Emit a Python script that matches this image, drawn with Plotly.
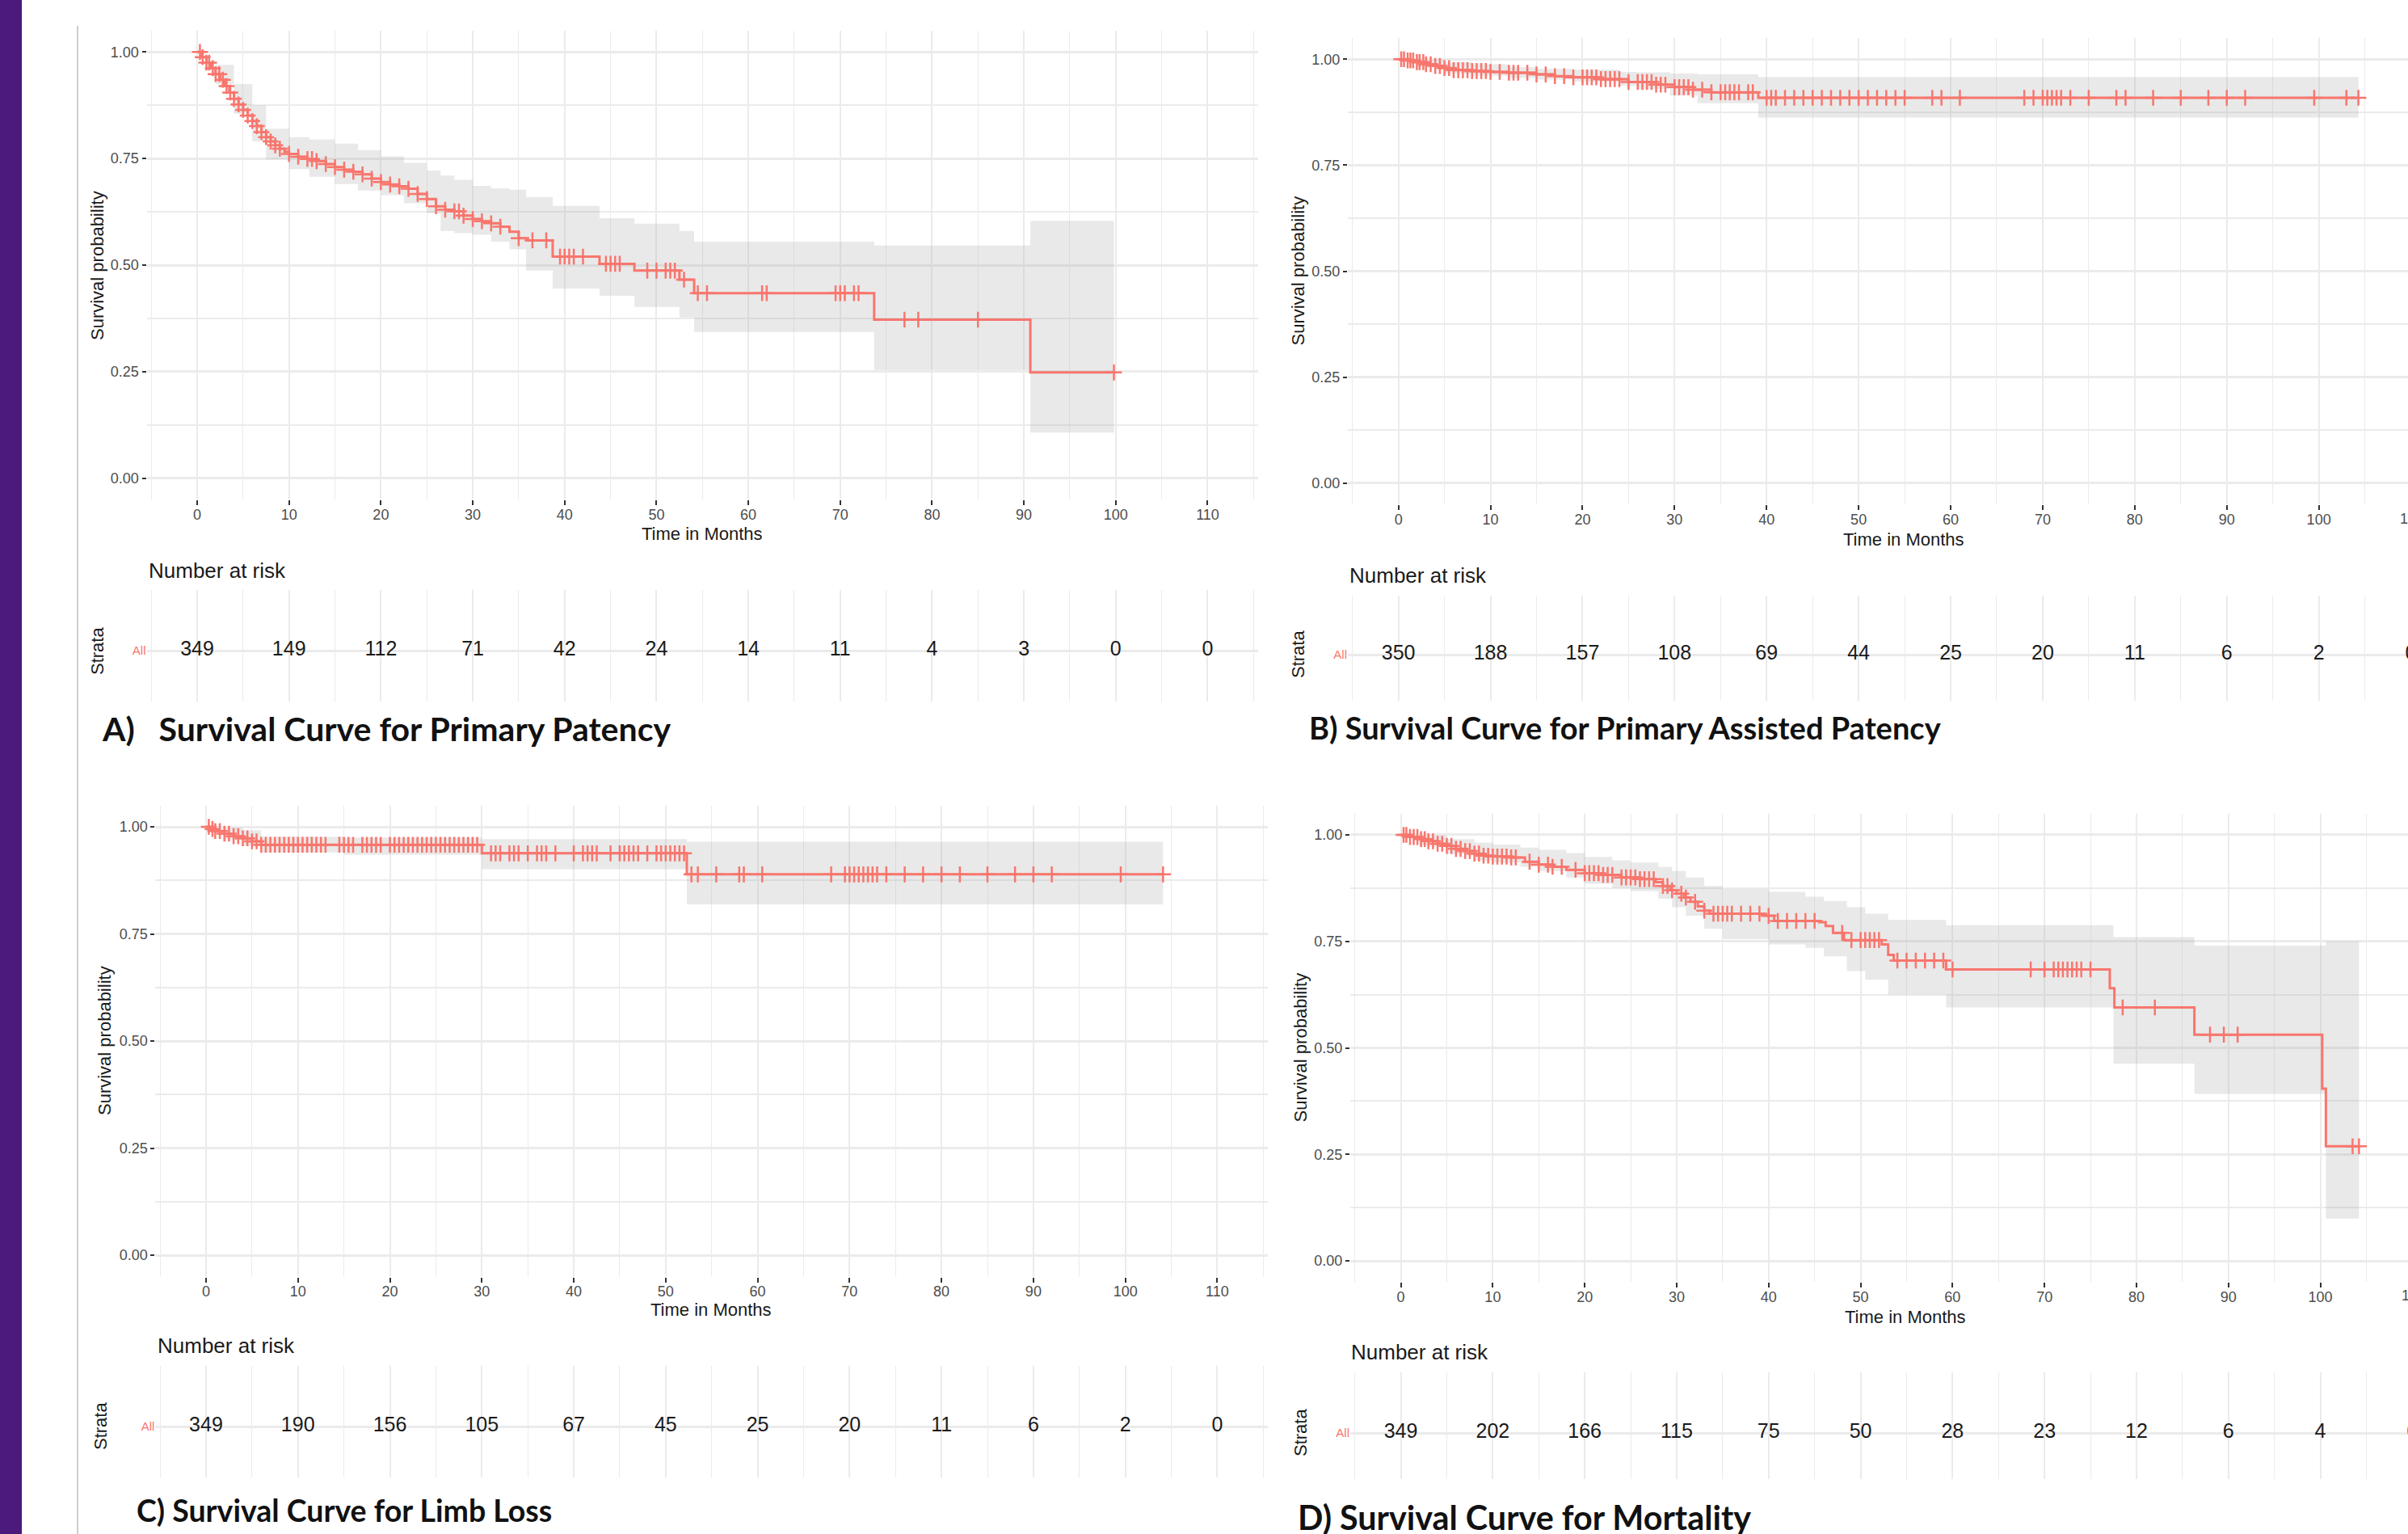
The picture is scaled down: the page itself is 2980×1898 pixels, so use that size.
import numpy as np
import plotly.graph_objects as go

W, H = 2980, 1898
RED = "#F8766D"
BAND = "rgba(175,175,175,0.27)"
GRID = "#EBEBEB"
FONT = "Liberation Sans, Arial, sans-serif"

# ---------------- data ----------------
risk_times = [0, 10, 20, 30, 40, 50, 60, 70, 80, 90, 100, 110]
tick_x = [0, 10, 20, 30, 40, 50, 60, 70, 80, 90, 100, 110]
tick_y = [0.00, 0.25, 0.50, 0.75, 1.00]

# A) Primary patency
A_t = [0, 0.5, 1, 1.5, 2, 2.5, 3, 3.5, 4, 4.5, 5, 5.5, 6, 6.5, 7, 7.5, 8, 8.5, 9, 9.5, 10, 11, 12, 13, 14,
       15, 16, 17, 18, 19, 20, 21, 22, 23, 24, 25, 26, 27, 28, 29, 30, 31, 32, 33, 34, 35, 36, 38.7,
       43.8, 47.6, 52.5, 54.1, 73.7, 90.7]
A_s = [1.0, 0.988, 0.975, 0.962, 0.948, 0.935, 0.92, 0.905, 0.89, 0.877, 0.864, 0.851, 0.838, 0.826,
       0.812, 0.80, 0.79, 0.781, 0.773, 0.766, 0.761, 0.754, 0.749, 0.744, 0.737, 0.73, 0.724, 0.719,
       0.713, 0.703, 0.695, 0.689, 0.685, 0.679, 0.667, 0.655, 0.638, 0.63, 0.626, 0.616, 0.608, 0.603,
       0.598, 0.59, 0.578, 0.563, 0.558, 0.52, 0.503, 0.487, 0.466, 0.434, 0.372, 0.248]
A_end = 99.8
A_band_t = [0, 2, 4, 6, 7.5, 10, 12.2, 15, 17.5, 20, 22.5, 25, 26.5, 28, 30, 32, 34, 35.8, 38.7, 43.8,
            47.6, 52.5, 54.1, 73.7, 90.7, 99.8]
A_hi = [1, 0.97, 0.925, 0.875, 0.82, 0.80, 0.795, 0.785, 0.77, 0.755, 0.74, 0.722, 0.71, 0.70, 0.686,
        0.68, 0.677, 0.66, 0.639, 0.61, 0.597, 0.58, 0.555, 0.546, 0.604, 0.604]
A_lo = [1, 0.925, 0.855, 0.79, 0.748, 0.725, 0.707, 0.69, 0.675, 0.664, 0.645, 0.622, 0.58, 0.575, 0.571,
        0.555, 0.537, 0.487, 0.445, 0.428, 0.402, 0.377, 0.343, 0.254, 0.107, 0.107]
A_cens = [0.3, 0.6, 1, 1.3, 1.7, 2, 2.4, 2.8, 3.2, 3.6, 4, 4.5, 5, 5.5, 6, 6.5, 7, 7.5, 8, 8.5, 9, 10, 11,
          12, 12.5, 13, 14, 15, 16, 17, 18, 19, 20, 21, 22, 23, 24, 25, 26, 27, 28, 28.5, 29, 30, 31, 32,
          33, 35, 36.5, 38, 39.5, 40, 40.5, 41, 42, 44.5, 45, 45.5, 46, 49, 50, 51, 51.5, 52, 53, 54.5,
          55.5, 61.5, 62, 69.5, 70, 70.5, 71.5, 72, 77, 78.5, 85, 99.8]
A_risk = [349, 149, 112, 71, 42, 24, 14, 11, 4, 3, 0, 0]

# B) Primary assisted patency
B_t = [0, 1, 2, 3, 4, 5, 6, 8, 10, 12, 15, 17, 19, 22, 25, 28, 30, 32, 34, 39.1]
B_s = [1, 0.997, 0.993, 0.988, 0.984, 0.979, 0.974, 0.972, 0.97, 0.968, 0.964, 0.96, 0.957, 0.953,
       0.946, 0.94, 0.934, 0.928, 0.922, 0.909]
B_end = 104.3
B_band_t = [0, 2, 5, 8, 12, 15, 19, 24, 26, 29.5, 32.5, 39.1, 104.3]
B_hi = [1, 0.999, 0.993, 0.988, 0.981, 0.977, 0.975, 0.97, 0.969, 0.966, 0.964, 0.958, 0.958]
B_lo = [1, 0.982, 0.966, 0.961, 0.956, 0.952, 0.947, 0.937, 0.93, 0.914, 0.896, 0.862, 0.862]
B_cens = [0.3, 0.6, 1, 1.3, 1.6, 2, 2.3, 2.7, 3, 3.5, 4, 4.5, 5, 5.5, 6, 6.5, 7, 7.5, 8, 8.5, 9, 9.5, 10,
          11, 12, 12.5, 13, 14, 15, 16, 17, 18, 19, 20, 20.5, 21, 21.5, 22, 22.5, 23, 23.5, 24, 25, 26,
          26.5, 27, 27.5, 28, 28.5, 29, 30, 30.5, 31, 31.5, 32, 33, 34, 35, 35.5, 36, 36.5, 37, 38, 38.5,
          40, 40.5, 41, 42, 43, 44, 45, 46, 47, 48, 49, 50, 51, 52, 53, 54, 55, 58, 59, 61, 68, 69, 70,
          70.5, 71, 71.5, 72, 73, 75, 78, 79, 82, 85, 88, 90, 92, 99.5, 103, 104.3]
B_risk = [350, 188, 157, 108, 69, 44, 25, 20, 11, 6, 2, 0]

# C) Limb loss
C_t = [0, 0.5, 1, 2, 3, 4, 5, 6, 30, 52.3]
C_s = [1, 0.995, 0.99, 0.984, 0.978, 0.973, 0.966, 0.958, 0.938, 0.889]
C_end = 104.1
C_band_t = [0, 2, 4, 6, 15, 30, 52.3, 104.1]
C_hi = [1, 0.998, 0.992, 0.977, 0.975, 0.971, 0.965, 0.965]
C_lo = [1, 0.97, 0.955, 0.94, 0.935, 0.901, 0.819, 0.819]
C_cens = [0.3, 0.7, 1, 1.5, 2, 2.5, 3, 3.5, 4, 4.5, 5, 5.5, 6, 6.5, 7, 7.5, 8, 8.5, 9, 9.5, 10, 10.5, 11,
          11.5, 12, 12.5, 13, 14.5, 15, 15.5, 16, 17, 17.5, 18, 18.5, 19, 20, 20.5, 21, 21.5, 22, 22.5,
          23, 23.5, 24, 24.5, 25, 25.5, 26, 26.5, 27, 27.5, 28, 28.5, 29, 29.5, 31, 31.5, 32, 33, 33.5,
          34, 35, 36, 36.5, 37, 38, 40, 41, 41.5, 42, 42.5, 44, 45, 45.5, 46, 46.5, 47, 48, 49, 49.5, 50,
          50.5, 51, 51.5, 52, 52.8, 53.5, 55.5, 58, 58.5, 60.5, 68, 69.5, 70, 70.5, 71, 71.5, 72, 72.5,
          73, 74, 76, 78, 80, 82, 85, 88, 90, 92, 99.5, 104.1]
C_risk = [349, 190, 156, 105, 67, 45, 25, 20, 11, 6, 2, 0]

# D) Mortality
D_t = [0, 1, 2, 3, 4, 5, 6, 7, 8, 9, 10, 12, 13.5, 15, 16.5, 18, 20, 22, 24, 26, 27.7, 28.5, 29.3, 30,
       30.8, 31.5, 32.3, 33, 33.6, 39.5, 40.6, 45.5, 46.2, 47, 48.2, 52.3, 53, 53.6, 59.3, 77.1, 77.6,
       86.3, 100.2, 100.6]
D_s = [1, 0.995, 0.99, 0.985, 0.979, 0.974, 0.967, 0.962, 0.956, 0.951, 0.949, 0.947, 0.937, 0.93,
       0.925, 0.918, 0.91, 0.906, 0.90, 0.896, 0.889, 0.88, 0.87, 0.862, 0.853, 0.843, 0.832, 0.822,
       0.815, 0.81, 0.798, 0.795, 0.786, 0.77, 0.753, 0.743, 0.718, 0.705, 0.684, 0.64, 0.595, 0.531,
       0.404, 0.269]
D_end = 104.2
D_band_t = [0, 2, 5, 8, 10, 13, 15, 18, 20, 23, 25, 28, 29.5, 31, 33, 35, 40, 44, 46, 48.5, 50.5, 53,
            59.3, 77.5, 86.3, 100.6, 104.2]
D_hi = [1, 0.999, 0.99, 0.982, 0.977, 0.97, 0.965, 0.957, 0.948, 0.94, 0.935, 0.925, 0.915, 0.90, 0.88,
        0.873, 0.866, 0.855, 0.845, 0.83, 0.815, 0.80, 0.788, 0.76, 0.74, 0.75, 0.75]
D_lo = [1, 0.975, 0.955, 0.94, 0.935, 0.925, 0.915, 0.90, 0.885, 0.875, 0.868, 0.85, 0.83, 0.81, 0.78,
        0.755, 0.743, 0.735, 0.715, 0.68, 0.66, 0.625, 0.595, 0.463, 0.392, 0.099, 0.099]
D_cens = [0.3, 0.6, 1, 1.4, 1.8, 2.2, 2.6, 3, 3.5, 4, 4.5, 5, 5.5, 6, 6.5, 7, 7.5, 8, 8.5, 9, 9.5, 10,
          10.5, 11, 11.5, 12, 12.5, 14, 15, 16, 16.5, 17.5, 19, 20, 20.5, 21, 21.5, 22, 22.5, 23, 24,
          24.5, 25, 25.5, 26, 26.5, 27, 27.5, 28.5, 29, 29.5, 30.5, 31, 32, 33, 34, 34.5, 35, 35.5, 36,
          37, 38, 39, 40, 41, 42, 43, 44, 45, 48, 49, 50, 50.5, 51, 51.5, 52, 54, 55, 56, 57, 58, 59, 60,
          68.5, 70, 71, 71.5, 72, 72.5, 73, 73.5, 74, 75, 78.5, 82, 88, 89.5, 91, 103.5, 104.2]
D_risk = [349, 202, 166, 115, 75, 50, 28, 23, 12, 6, 4, 0]

titles = ["A)\u00a0\u00a0 Survival Curve for Primary Patency",
          "B) Survival Curve for Primary Assisted Patency",
          "C) Survival Curve for Limb Loss",
          "D) Survival Curve for Mortality"]

# ---------------- layout geometry (pixels) ----------------
panels = [
    dict(t=A_t, s=A_s, end=A_end, bt=A_band_t, hi=A_hi, lo=A_lo, cens=A_cens, risk=A_risk,
         xdom=(181.5, 1557), xr=(-5.5, 115.5), ydom=(38, 618), rdom=(730, 868), row=805,
         ytitle_x=120, xtitle=(869, 660), nar=(182, 706), strata_x=120, title=(124, 902),
         tsize=41, cut=None),
    dict(t=B_t, s=B_s, end=B_end, bt=B_band_t, hi=B_hi, lo=B_lo, cens=B_cens, risk=B_risk,
         xdom=(1668, 2980), xr=(-5.5, 109.69), ydom=(47, 624), rdom=(737, 867), row=810,
         ytitle_x=1606, xtitle=(2356, 667), nar=(1668, 712), strata_x=1606, title=(1618, 900),
         tsize=38, cut=(2984, 642)),
    dict(t=C_t, s=C_s, end=C_end, bt=C_band_t, hi=C_hi, lo=C_lo, cens=C_cens, risk=C_risk,
         xdom=(192.4, 1569), xr=(-5.5, 115.5), ydom=(996.5, 1579.5), rdom=(1690, 1828), row=1765,
         ytitle_x=129, xtitle=(880, 1620), nar=(193, 1665), strata_x=124, title=(167, 1868),
         tsize=37.5, cut=None),
    dict(t=D_t, s=D_s, end=D_end, bt=D_band_t, hi=D_hi, lo=D_lo, cens=D_cens, risk=D_risk,
         xdom=(1671, 2980), xr=(-5.5, 109.53), ydom=(1006.6, 1586.4), rdom=(1698, 1830), row=1773,
         ytitle_x=1609, xtitle=(2358, 1629), nar=(1670, 1673), strata_x=1609, title=(1604, 1877),
         tsize=41.3, cut=(2986, 1603)),
]

def fx(p):
    return p / W

def fy(p):
    return 1 - p / H

fig = go.Figure()
layout = dict(width=W, height=H, margin=dict(l=0, r=0, t=0, b=0), paper_bgcolor="white",
              plot_bgcolor="white", showlegend=False, font=dict(family=FONT, color="#333333"))
annotations = []

for i, p in enumerate(panels):
    mx, my = 2 * i + 1, 2 * i + 1
    rx, ry = 2 * i + 2, 2 * i + 2
    xa, ya = f"x{mx}", f"y{my}"
    xr_, yr_ = f"x{rx}", f"y{ry}"

    t = np.array(p["t"], dtype=float)
    s = np.array(p["s"], dtype=float)
    # confidence band
    fig.add_trace(go.Scatter(x=p["bt"], y=p["lo"], mode="lines", line=dict(width=0, shape="hv"),
                             xaxis=xa, yaxis=ya, hoverinfo="skip"))
    fig.add_trace(go.Scatter(x=p["bt"], y=p["hi"], mode="lines", line=dict(width=0, shape="hv"),
                             fill="tonexty", fillcolor=BAND, xaxis=xa, yaxis=ya, hoverinfo="skip"))
    # survival step curve
    fig.add_trace(go.Scatter(x=list(t) + [p["end"]], y=list(s) + [s[-1]], mode="lines",
                             line=dict(color=RED, width=3, shape="hv"), xaxis=xa, yaxis=ya))
    # censor marks
    c = np.array(p["cens"], dtype=float)
    idx = np.searchsorted(t, c, side="right") - 1
    fig.add_trace(go.Scatter(x=c, y=s[idx], mode="markers",
                             marker=dict(symbol="cross-thin", size=14, color=RED,
                                         line=dict(color=RED, width=2.5)),
                             xaxis=xa, yaxis=ya))
    # risk table numbers
    fig.add_trace(go.Scatter(x=risk_times, y=[0] * len(risk_times), mode="text",
                             text=[str(v) for v in p["risk"]],
                             textfont=dict(size=25, color="#1a1a1a", family=FONT),
                             textposition="middle center", cliponaxis=True,
                             xaxis=xr_, yaxis=yr_))

    x0, x1 = p["xdom"]
    xdom = [fx(x0), min(1.0, fx(x1))]
    layout[f"xaxis{mx}"] = dict(domain=xdom, range=list(p["xr"]), anchor=ya, tickvals=tick_x,
                                ticktext=[str(v) for v in tick_x], showgrid=True, gridcolor=GRID,
                                gridwidth=2, zeroline=False, showline=False, ticks="outside",
                                ticklen=6, tickwidth=2, tickcolor="#333333",
                                ticklabelstandoff=-4,
                                tickfont=dict(size=18, color="#4D4D4D"),
                                minor=dict(dtick=5, tick0=0, showgrid=True, gridcolor=GRID,
                                           gridwidth=1.2))
    y0, y1 = p["ydom"]
    layout[f"yaxis{my}"] = dict(domain=[fy(y1), fy(y0)], range=[-0.05, 1.05], anchor=xa,
                                tickvals=tick_y, ticktext=[f"{v:.2f}" for v in tick_y],
                                showgrid=True, gridcolor=GRID, gridwidth=2.5, zeroline=False,
                                showline=False, ticks="outside", ticklen=5, tickwidth=2,
                                tickcolor="#333333", tickfont=dict(size=18, color="#4D4D4D"),
                                minor=dict(dtick=0.125, tick0=0, showgrid=True, gridcolor=GRID,
                                           gridwidth=1.5))
    r0, r1 = p["rdom"]
    row = p["row"]
    layout[f"xaxis{rx}"] = dict(domain=xdom, range=list(p["xr"]), anchor=yr_, tickvals=tick_x,
                                showticklabels=False, showgrid=True, gridcolor=GRID, gridwidth=2,
                                zeroline=False, showline=False, ticks="",
                                minor=dict(dtick=5, tick0=0, showgrid=True, gridcolor=GRID,
                                           gridwidth=1.2))
    layout[f"yaxis{ry}"] = dict(domain=[fy(r1), fy(r0)], range=[-(r1 - row), row - r0],
                                anchor=xr_, tickvals=[0], ticktext=["All"], showgrid=True,
                                gridcolor=GRID, gridwidth=3, zeroline=False, showline=False,
                                ticks="", tickfont=dict(size=15, color=RED))

    # texts
    annotations.append(dict(text="Survival probability", x=fx(p["ytitle_x"]), y=fy((y0 + y1) / 2),
                            xref="paper", yref="paper", showarrow=False, textangle=-90,
                            font=dict(size=22, color="#1a1a1a"), xanchor="center", yanchor="middle"))
    annotations.append(dict(text="Time in Months", x=fx(p["xtitle"][0]), y=fy(p["xtitle"][1]),
                            xref="paper", yref="paper", showarrow=False,
                            font=dict(size=22, color="#1a1a1a"), xanchor="center", yanchor="middle"))
    annotations.append(dict(text="Number at risk", x=fx(p["nar"][0]), y=fy(p["nar"][1]),
                            xref="paper", yref="paper", showarrow=False,
                            font=dict(size=26, color="#1a1a1a"), xanchor="left", yanchor="middle"))
    annotations.append(dict(text="Strata", x=fx(p["strata_x"]), y=fy(row), xref="paper",
                            yref="paper", showarrow=False, textangle=-90,
                            font=dict(size=22, color="#1a1a1a"), xanchor="center", yanchor="middle"))
    annotations.append(dict(text=f"<b>{titles[i]}</b>", x=fx(p["title"][0]), y=fy(p["title"][1]),
                            xref="paper", yref="paper", showarrow=False,
                            font=dict(size=p["tsize"], color="#111111",
                                      family="Lato, Open Sans, sans-serif"),
                            xanchor="left", yanchor="middle"))
    if p["cut"] is not None:
        # the last x tick label ("110") runs off the right edge of the page
        annotations.append(dict(text=str(tick_x[-1]), x=fx(p["cut"][0]), y=fy(p["cut"][1]),
                                xref="paper", yref="paper", showarrow=False,
                                font=dict(size=18, color="#4D4D4D"), xanchor="center",
                                yanchor="middle"))

layout["annotations"] = annotations
layout["shapes"] = [
    dict(type="rect", xref="paper", yref="paper", x0=0, x1=fx(27), y0=0, y1=1,
         fillcolor="#4B1A7A", line=dict(width=0), layer="above"),
    dict(type="line", xref="paper", yref="paper", x0=fx(96), x1=fx(96), y0=0, y1=fy(32),
         line=dict(color="#BDBDBD", width=1.5)),
]
fig.update_layout(**layout)
fig.write_html("out.html", config={"displayModeBar": False},
               post_script="document.body.style.margin='0';document.body.style.padding='0';"
                           "document.body.style.overflow='hidden';")
